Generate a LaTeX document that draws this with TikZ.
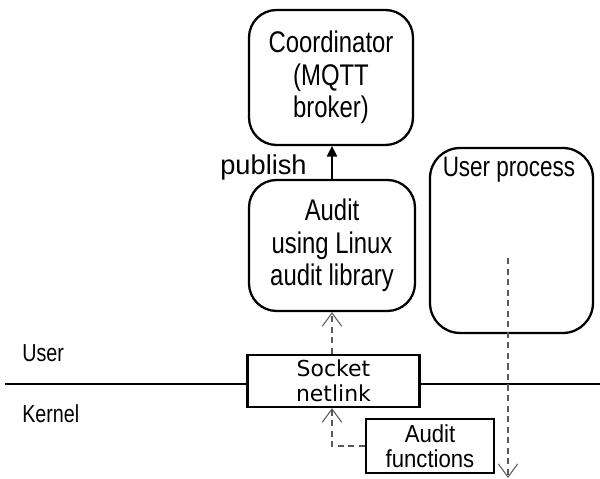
\documentclass[tikz,border=0pt]{standalone}
\usepackage{fontspec}
\setmainfont{Liberation Sans}
\newfontfamily\condfont[FakeStretch=0.8]{Liberation Sans}
\newfontfamily\semicondfont[FakeStretch=0.9]{Liberation Sans}
\newfontfamily\dejafont{DejaVu Sans}
\usetikzlibrary{arrows.meta}
\tikzset{
  roundbox/.style={draw, line width=1.3pt, rounded corners=0.55cm, align=center,
    font=\condfont\fontsize{17}{18.5}\selectfont},
  squarebox/.style={draw, line width=1.3pt, fill=white, align=center, inner sep=0pt},
  plainlabel/.style={inner sep=0pt, anchor=base west},
  dashedarrow/.style={draw=black!65, line width=0.6pt, dash pattern=on 3.5pt off 2.5pt,
    -{Straight Barb[length=7.5pt,width=11pt]}}
}
\begin{document}
\begin{tikzpicture}[x=0.02cm,y=-0.02cm]
  \useasboundingbox (0,0) rectangle (600,479);
  \coordinate (sepl) at (5,384);
  \coordinate (sepr) at (600,384);
  \draw[line width=0.6pt] (sepl) -- (sepr);
  \node[roundbox, minimum width=3.28cm, minimum height=2.7cm] (coord) at (331,77.5)
    {Coordinator\\(MQTT\\broker)};
  \node[roundbox, minimum width=3.32cm, minimum height=2.62cm] (audit) at (332,245.5)
    {Audit\\using Linux\\audit library};
  \node[roundbox, rounded corners=0.6cm, minimum width=3.26cm, minimum height=3.7cm] (proc) at (511.5,240.5) {};
  \node[inner sep=0pt, anchor=base, font=\condfont\fontsize{16}{16}\selectfont] (proclabel) at (509,177) {User process};
  \node[squarebox, minimum width=3.44cm, minimum height=1.04cm,
    font=\dejafont\fontsize{12.5}{14}\selectfont] (socket) at (333.5,381) {Socket\\netlink};
  \node[squarebox, minimum width=2.56cm, minimum height=1.08cm,
    font=\semicondfont\fontsize{14}{14.5}\selectfont] (funcs) at (430,446) {Audit\\functions};
  \node[plainlabel, font=\condfont\fontsize{14}{14}\selectfont] (userlabel) at (22,362) {User};
  \node[plainlabel, font=\condfont\fontsize{14}{14}\selectfont] (kernellabel) at (22,423) {Kernel};
  \node[plainlabel, font=\fontsize{15.5}{15.5}\selectfont] (publish) at (220,175) {publish};
  \draw[line width=0.8pt, -{Triangle[length=6pt,width=6pt]}] (audit.north) -- (audit.north |- coord.south);
  \draw[dashedarrow] (socket.north -| audit.south) -- (audit.south);
  \draw[dashedarrow] (funcs.west) -| (socket.south -| audit.south);
  \coordinate (callstart) at (508,258);
  \coordinate (callend) at (508,478);
  \draw[dashedarrow] (callstart) -- (callend);
\end{tikzpicture}
\end{document}
